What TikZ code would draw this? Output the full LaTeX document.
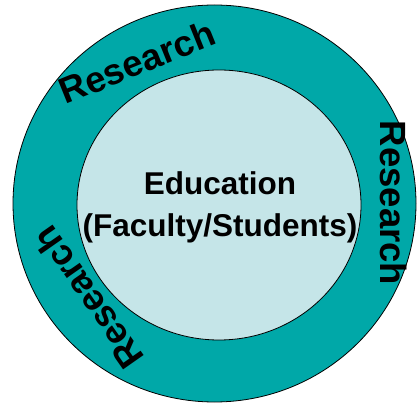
\documentclass[tikz,border=0pt]{standalone}
\usepackage{fontspec}
\setmainfont{Liberation Sans}
\usepackage{tikz}
\usetikzlibrary{positioning}

\definecolor{RingTeal}{RGB}{0,168,168}
\definecolor{CoreBlue}{RGB}{197,229,232}

\begin{document}
\begin{tikzpicture}[x=1pt, y=1pt]

    % Bounding box
    \useasboundingbox (0, 0) rectangle (417, 407);

    % Circles
    \tikzset{ring/.style={draw=black, thick, fill=RingTeal}}
    \tikzset{core/.style={draw=black, thick, fill=CoreBlue}}

    % Labels
    \tikzset{rlbl/.style={font=\fontsize{36.5}{36.5}\selectfont\bfseries, inner sep=0pt}}
    \tikzset{elbl/.style={font=\fontsize{31.5}{42}\selectfont\bfseries, align=center, inner sep=0pt}}

    % Shapes
    \path[ring] (214.5, 203.5) ellipse [x radius=201.5, y radius=198.5];
    \path[core] (219, 202) ellipse [x radius=142, y radius=135];

    % Text nodes
    \node (edu) [elbl] at (220, 200) {Education\\(Faculty/Students)};
    \node (rtop) [rlbl, rotate=22] at (137, 345) {Research};
    \node (rright) [rlbl, rotate=-90] at (394, 204) {Research};
    \node (rleft) [rlbl, rotate=125] at (88, 109) {Research};

\end{tikzpicture}
\end{document}
